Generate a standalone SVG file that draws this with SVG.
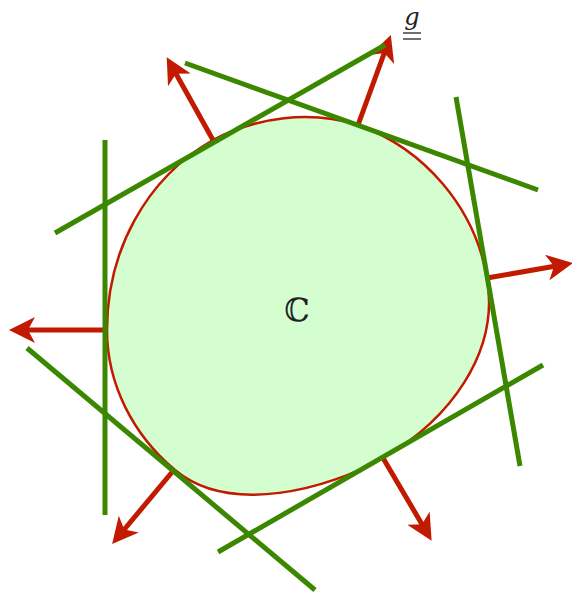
<svg xmlns="http://www.w3.org/2000/svg" width="572" height="592" viewBox="0 0 572 592">
<style>
.blob{fill:#d4fdd0;stroke:#c21a00;stroke-width:2.5}
.arr{stroke:#c21a00;stroke-width:5;fill:none;marker-end:url(#head)}
.tan{stroke:#3b8700;stroke-width:5;fill:none}
.lbl{font-family:"DejaVu Serif","Liberation Serif",serif;fill:#222}
</style>
<defs>
<marker id="head" markerUnits="userSpaceOnUse" markerWidth="26" markerHeight="26" viewBox="0 0 26 26" refX="9" refY="13" orient="auto">
<path d="M26,13 L0,0 L7,13 L0,26 Z" fill="#c21a00"/>
</marker>
</defs>
<g id="region">
<path class="blob" d="M107,330 C107,252 145,179 213,140 C257,117 310,110 358,125 C425,149 475,208 487,278 C500,353 449,420 383,458 C329,489 230,516 175,470 C133,435 107,384 107,330 Z"/>
<text class="lbl" x="297" y="321" font-size="32" text-anchor="middle">ℂ</text>
</g>
<g id="connectors">
<line class="arr" x1="107" y1="330" x2="26" y2="330"/>
<line class="arr" x1="213" y1="140" x2="175" y2="72"/>
<line class="arr" x1="358" y1="125" x2="385" y2="51"/>
<line class="arr" x1="487" y1="278" x2="556" y2="266"/>
<line class="arr" x1="383" y1="458" x2="423" y2="526"/>
<line class="arr" x1="173" y1="471" x2="123" y2="531"/>
</g>
<g id="tangents">
<line class="tan" x1="105" y1="140" x2="105" y2="515"/>
<line class="tan" x1="55" y1="233" x2="385" y2="45"/>
<line class="tan" x1="185" y1="63" x2="538" y2="190"/>
<line class="tan" x1="456" y1="97" x2="520" y2="466"/>
<line class="tan" x1="218" y1="552" x2="543" y2="365"/>
<line class="tan" x1="27" y1="348" x2="315" y2="590"/>
</g>
<g id="label-g">
<text class="lbl" x="412" y="25" font-size="24" font-style="italic" text-anchor="middle">g</text>
<line x1="403" y1="33" x2="421" y2="33" stroke="#222" stroke-width="1.3"/>
<line x1="403" y1="39" x2="421" y2="39" stroke="#222" stroke-width="1.3"/>
</g>
</svg>
